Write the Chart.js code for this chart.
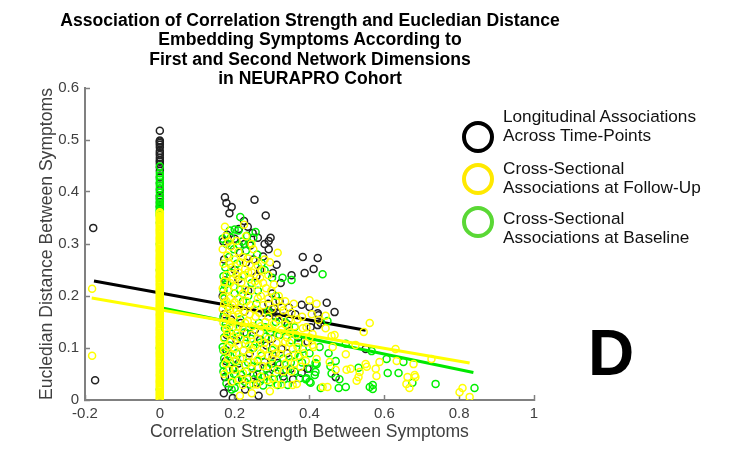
<!DOCTYPE html>
<html lang="en">
<head>
    <meta charset="UTF-8">
    <title>NEURAPRO Cohort</title>
    <script src="https://cdn.jsdelivr.net/npm/chart.js"></script>
    <style>
        body { margin: 0; background: #fff; font-family: 'Liberation Sans', sans-serif; }
        #wrap { position: relative; width: 738px; height: 461px; }
        #title { position: absolute; left: 10px; width: 600px; top: 11px; text-align: center; font-size: 17.6px; line-height: 19.3px; font-weight: bold; color: #000; }
        .ring { position: absolute; left: 462px; width: 24px; height: 24px; border: 4px solid #000; border-radius: 50%; }
        .lab { position: absolute; left: 503px; font-size: 17.2px; line-height: 18.8px; color: #111; white-space: nowrap; }
        #panel { position: absolute; left: 588px; top: 318px; font-size: 64px; line-height: 70px; font-weight: bold; color: #000; }
    </style>
</head>
<body>
<div id="wrap">
    <canvas id="chart" width="738" height="461"></canvas>
    <div id="title">Association of Correlation Strength and Eucledian Distance<br>Embedding Symptoms According to<br>First and Second Network Dimensions<br>in NEURAPRO Cohort</div>
    <div class="ring" style="top:121px"></div>
    <div class="lab" style="top:107px">Longitudinal Associations<br>Across Time-Points</div>
    <div class="ring" style="top:163px;border-color:#ffe900"></div>
    <div class="lab" style="top:159px">Cross-Sectional<br>Associations at Follow-Up</div>
    <div class="ring" style="top:206px;border-color:#5ad835"></div>
    <div class="lab" style="top:209px">Cross-Sectional<br>Associations at Baseline</div>
    <div id="panel">D</div>
</div>
<script>
    const xTicks = [-0.2, 0, 0.2, 0.4, 0.6, 0.8, 1];
    const yTicks = [0, 0.1, 0.2, 0.3, 0.4, 0.5, 0.6];

    // points sitting on the x = 0 column, y only
    const blackColumn = [0.518, 0.499, 0.497, 0.494, 0.491, 0.486, 0.479, 0.475, 0.471, 0.466, 0.461, 0.458, 0.454, 0.447, 0.441, 0.428, 0.417, 0.404, 0.393, 0.388, 0.381, 0.372];
    const greenColumn = [0.449, 0.436, 0.431, 0.424, 0.418, 0.412, 0.407, 0.399, 0.392, 0.385, 0.379, 0.376, 0.372, 0.369, 0.366, 0.364, 0.361, 0.358, 0.355, 0.341, 0.3, 0.25, 0.1, 0.02];
    const yellowColumn = [0.361, 0.359, 0.357, 0.354, 0.352, 0.35, 0.348, 0.346, 0.343, 0.341, 0.338, 0.335, 0.333, 0.33, 0.328, 0.326, 0.324, 0.321, 0.319, 0.316, 0.313, 0.311, 0.309, 0.307, 0.304, 0.302, 0.299, 0.296, 0.294, 0.291, 0.289, 0.287, 0.285, 0.282, 0.279, 0.277, 0.274, 0.272, 0.27, 0.268, 0.265, 0.262, 0.26, 0.257, 0.254, 0.251, 0.249, 0.246, 0.243, 0.24, 0.238, 0.236, 0.234, 0.231, 0.229, 0.226, 0.223, 0.221, 0.218, 0.215, 0.212, 0.21, 0.208, 0.206, 0.203, 0.2, 0.198, 0.195, 0.193, 0.19, 0.187, 0.184, 0.182, 0.18, 0.178, 0.175, 0.173, 0.17, 0.167, 0.165, 0.163, 0.161, 0.158, 0.156, 0.153, 0.15, 0.148, 0.145, 0.142, 0.139, 0.137, 0.135, 0.133, 0.13, 0.128, 0.125, 0.122, 0.12, 0.118, 0.116, 0.113, 0.111, 0.108, 0.105, 0.103, 0.1, 0.097, 0.094, 0.092, 0.09, 0.088, 0.085, 0.083, 0.08, 0.077, 0.075, 0.072, 0.07, 0.068, 0.066, 0.063, 0.06, 0.058, 0.055, 0.052, 0.049, 0.047, 0.044, 0.041, 0.038, 0.036, 0.034, 0.032, 0.029, 0.027, 0.024, 0.021, 0.019, 0.016, 0.014, 0.011, 0.009, 0.006, 0.004, 0.002];

    // [correlation, distance] away from the column
    const blackCloud = [[-0.178,0.331],[-0.173,0.038],[0.174,0.39],[0.178,0.379],[0.192,0.371],[0.186,0.359],[0.253,0.385],[0.283,0.355],[0.296,0.312],[0.291,0.306],[0.291,0.29],[0.235,0.333],[0.225,0.344],[0.211,0.329],[0.248,0.321],[0.382,0.275],[0.422,0.273],[0.387,0.244],[0.411,0.252],[0.446,0.187],[0.467,0.169],[0.4,0.179],[0.422,0.167],[0.352,0.24],[0.323,0.225],[0.312,0.26],[0.302,0.244],[0.379,0.183],[0.55,0.098],[0.47,0.044],[0.395,0.06],[0.379,0.052],[0.171,0.013],[0.195,0.004],[0.264,0.008],[0.259,0.033],[0.395,0.112],[0.302,0.087],[0.315,0.071],[0.28,0.073],[0.174,0.044],[0.179,0.125],[0.424,0.163],[0.422,0.144],[0.43,0.148],[0.403,0.14],[0.17,0.305],[0.19,0.296],[0.214,0.283],[0.242,0.297],[0.262,0.312],[0.276,0.276],[0.168,0.2],[0.175,0.23],[0.2,0.25],[0.23,0.264],[0.258,0.238],[0.3,0.205],[0.32,0.19],[0.345,0.178],[0.362,0.165],[0.172,0.165],[0.19,0.155],[0.226,0.17],[0.28,0.168],[0.31,0.16],[0.342,0.145],[0.37,0.12],[0.178,0.095],[0.205,0.115],[0.24,0.09],[0.262,0.062],[0.285,0.105],[0.325,0.098],[0.35,0.06],[0.196,0.06],[0.22,0.04],[0.184,0.025],[0.29,0.048],[0.33,0.045],
        [0.18,0.318],[0.2,0.31],[0.226,0.3],[0.25,0.27],[0.28,0.3],[0.268,0.25],[0.172,0.27],[0.21,0.232],[0.236,0.21],[0.29,0.185],[0.306,0.176],[0.33,0.16],[0.298,0.168],[0.312,0.168],[0.216,0.148],[0.254,0.135],[0.176,0.075],[0.232,0.128],[0.268,0.116],[0.3,0.118],[0.21,0.07],[0.25,0.048],[0.305,0.062],[0.34,0.09],[0.228,0.02],[0.356,0.04]];

    const greenCloud = [[0.435,0.242],[0.215,0.352],[0.21,0.326],[0.187,0.326],[0.2,0.328],[0.256,0.323],[0.233,0.316],[0.272,0.263],[0.328,0.235],[0.352,0.231],[0.174,0.221],[0.174,0.138],[0.168,0.102],[0.227,0.035],[0.2,0.023],[0.315,0.029],[0.342,0.029],[0.374,0.042],[0.392,0.042],[0.4,0.035],[0.416,0.071],[0.566,0.094],[0.606,0.079],[0.651,0.073],[0.531,0.062],[0.609,0.052],[0.638,0.052],[0.675,0.033],[0.737,0.031],[0.841,0.023],[0.561,0.025],[0.569,0.029],[0.569,0.021],[0.497,0.025],[0.478,0.023],[0.43,0.023],[0.47,0.075],[0.497,0.108],[0.427,0.102],[0.451,0.09],[0.456,0.065],[0.48,0.04],[0.459,0.051],[0.414,0.048],[0.416,0.054],[0.419,0.069],[0.403,0.033],[0.39,0.04],[0.448,0.152],[0.36,0.087],[0.374,0.083],[0.178,0.3],[0.198,0.29],[0.22,0.305],[0.24,0.3],[0.185,0.275],[0.206,0.262],[0.26,0.28],[0.28,0.25],[0.175,0.255],[0.19,0.245],[0.225,0.24],[0.245,0.225],[0.262,0.21],[0.3,0.235],[0.172,0.195],[0.182,0.18],[0.2,0.205],[0.222,0.19],[0.258,0.185],[0.29,0.17],[0.31,0.2],[0.335,0.15],[0.17,0.16],[0.196,0.14],[0.215,0.155],[0.24,0.14],[0.265,0.148],[0.295,0.13],[0.32,0.125],[0.352,0.115],[0.172,0.12],[0.186,0.105],[0.205,0.09],[0.228,0.108],[0.25,0.1],[0.272,0.085],[0.3,0.096],[0.33,0.08],[0.35,0.072],[0.172,0.08],[0.19,0.07],[0.212,0.062],[0.236,0.072],[0.26,0.05],[0.285,0.06],[0.31,0.052],[0.338,0.058],[0.17,0.055],[0.186,0.045],[0.206,0.038],[0.24,0.03],[0.268,0.036],[0.295,0.034],[0.178,0.032],[0.192,0.02],
        [0.168,0.31],[0.19,0.312],[0.212,0.298],[0.23,0.287],[0.25,0.312],[0.17,0.238],[0.18,0.225],[0.198,0.218],[0.214,0.212],[0.236,0.2],[0.17,0.21],[0.176,0.145],[0.19,0.128],[0.21,0.122],[0.226,0.13],[0.244,0.118],[0.268,0.11],[0.284,0.122],[0.17,0.095],[0.182,0.088],[0.198,0.075],[0.222,0.08],[0.245,0.065],[0.262,0.075],[0.28,0.045],[0.3,0.07],[0.32,0.068],[0.17,0.068],[0.18,0.058],[0.198,0.05],[0.218,0.048],[0.232,0.055],[0.252,0.04],[0.276,0.028],[0.305,0.04],[0.332,0.04],[0.36,0.055],[0.38,0.072],[0.4,0.09],[0.382,0.098],[0.4,0.06],[0.37,0.11],[0.345,0.14],[0.36,0.14],[0.31,0.15],[0.282,0.14]];

    const yellowCloud = [[-0.181,0.214],[-0.181,0.085],[0.561,0.148],[0.545,0.131],[0.63,0.098],[0.726,0.079],[0.633,0.075],[0.678,0.069],[0.587,0.073],[0.55,0.069],[0.553,0.064],[0.577,0.06],[0.499,0.058],[0.51,0.06],[0.534,0.054],[0.531,0.044],[0.526,0.037],[0.579,0.046],[0.662,0.044],[0.681,0.048],[0.683,0.044],[0.659,0.031],[0.667,0.023],[0.801,0.015],[0.809,0.023],[0.828,0.006],[0.448,0.025],[0.435,0.025],[0.497,0.088],[0.462,0.102],[0.523,0.106],[0.467,0.125],[0.459,0.123],[0.454,0.073],[0.47,0.058],[0.419,0.079],[0.376,0.064],[0.366,0.031],[0.355,0.029],[0.4,0.192],[0.419,0.185],[0.406,0.165],[0.443,0.162],[0.424,0.154],[0.443,0.138],[0.392,0.14],[0.382,0.138],[0.408,0.127],[0.411,0.102],[0.368,0.102],
        [0.174,0.333],[0.225,0.337],[0.23,0.315],[0.176,0.315],[0.205,0.306],[0.25,0.29],[0.245,0.3],[0.315,0.283],[0.294,0.265],[0.18,0.278],[0.2,0.27],[0.215,0.265],[0.168,0.29],[0.19,0.295],[0.235,0.272],[0.262,0.258],[0.28,0.27],[0.17,0.262],[0.192,0.255],[0.21,0.245],[0.228,0.252],[0.246,0.245],[0.268,0.235],[0.29,0.24],[0.178,0.24],[0.196,0.232],[0.218,0.226],[0.24,0.232],[0.262,0.222],[0.284,0.215],[0.305,0.222],[0.168,0.215],[0.182,0.212],[0.2,0.218],[0.222,0.205],[0.244,0.21],[0.27,0.2],[0.29,0.195],[0.318,0.2],[0.335,0.19],[0.17,0.198],[0.178,0.19],[0.188,0.196],[0.2,0.188],[0.215,0.178],[0.232,0.19],[0.252,0.175],[0.276,0.182],[0.3,0.175],[0.33,0.172],[0.352,0.168],[0.368,0.155],[0.168,0.175],[0.18,0.168],[0.196,0.16],[0.21,0.165],[0.235,0.152],[0.256,0.16],[0.282,0.15],[0.305,0.146],[0.325,0.135],[0.348,0.13],[0.17,0.148],[0.186,0.142],[0.204,0.128],[0.222,0.138],[0.245,0.125],[0.268,0.13],[0.29,0.118],[0.312,0.11],[0.335,0.112],[0.355,0.098],[0.172,0.118],[0.19,0.112],[0.21,0.105],[0.232,0.115],[0.256,0.105],[0.278,0.098],[0.3,0.08],[0.322,0.088],[0.347,0.11],[0.345,0.082],[0.172,0.095],[0.194,0.088],[0.215,0.08],[0.238,0.085],[0.262,0.078],[0.29,0.065],[0.315,0.058],[0.335,0.07],[0.176,0.07],[0.2,0.058],[0.222,0.052],[0.246,0.06],[0.27,0.045],[0.3,0.042],[0.325,0.03],[0.172,0.05],[0.192,0.035],[0.214,0.008],[0.246,0.013],[0.294,0.017],[0.222,0.029],[0.288,0.038],[0.25,0.03],[0.408,0.106],[0.36,0.07],[0.385,0.09],[0.4,0.12],[0.38,0.16],[0.358,0.185],[0.39,0.11],
        [0.184,0.305],[0.21,0.285],[0.222,0.275],[0.24,0.26],[0.256,0.268],[0.272,0.25],[0.186,0.262],[0.204,0.24],[0.22,0.238],[0.236,0.245],[0.254,0.228],[0.276,0.225],[0.298,0.21],[0.172,0.228],[0.188,0.225],[0.21,0.195],[0.228,0.212],[0.242,0.182],[0.262,0.195],[0.31,0.19],[0.325,0.18],[0.345,0.155],[0.172,0.185],[0.186,0.175],[0.194,0.182],[0.206,0.172],[0.224,0.17],[0.24,0.165],[0.266,0.168],[0.29,0.16],[0.318,0.155],[0.336,0.145],[0.36,0.142],[0.176,0.158],[0.192,0.15],[0.21,0.142],[0.228,0.148],[0.248,0.142],[0.27,0.142],[0.294,0.138],[0.315,0.125],[0.34,0.12],[0.365,0.125],[0.18,0.128],[0.198,0.122],[0.216,0.118],[0.238,0.105],[0.262,0.118],[0.28,0.11],[0.304,0.1],[0.328,0.1],[0.18,0.102],[0.2,0.098],[0.224,0.095],[0.246,0.098],[0.27,0.09],[0.29,0.085],[0.31,0.09],[0.182,0.08],[0.204,0.075],[0.228,0.068],[0.252,0.072],[0.276,0.065],[0.33,0.055],[0.186,0.058],[0.212,0.04],[0.236,0.04],[0.26,0.03],[0.31,0.03],[0.352,0.055],[0.37,0.085],[0.39,0.075],[0.178,0.135]];

    const blackLine = [[-0.176, 0.229], [0.55, 0.134]];
    const greenLine = [[0, 0.178], [0.838, 0.053]];
    const yellowLine = [[-0.182, 0.196], [0.828, 0.071]];

    const toPoints = pairs => pairs.map(p => ({ x: p[0], y: p[1] }));
    const onColumn = ys => ys.map(y => ({ x: 0, y: y }));

    function marks(points, color, order) {
        return { data: points, pointBorderColor: color, pointBackgroundColor: 'transparent', pointRadius: 3.5, pointBorderWidth: 1.5, order: order };
    }
    function fit(points, color, order) {
        return { data: toPoints(points), showLine: true, borderColor: color, borderWidth: 3, pointRadius: 0, order: order };
    }

    const axisColor = '#808080';
    const textColor = '#404040';

    new Chart(document.getElementById('chart'), {
        type: 'scatter',
        data: {
            datasets: [
                fit(blackLine, '#000', 7),
                marks(toPoints(blackCloud).concat(onColumn(blackColumn)), '#222', 6),
                fit(greenLine, '#00e800', 5),
                marks(toPoints(greenCloud).concat(onColumn(greenColumn)), '#00f000', 4),
                marks(toPoints(yellowCloud).concat(onColumn(yellowColumn)), '#ffff00', 3),
                fit(yellowLine, '#ffff00', 2)
            ]
        },
        options: {
            responsive: false,
            animation: false,
            layout: { padding: { top: 88, right: 204 } },
            plugins: {
                legend: { display: false },
                tooltip: { enabled: false }
            },
            scales: {
                x: {
                    min: -0.2, max: 1,
                    afterBuildTicks: s => { s.ticks = xTicks.map(v => ({ value: v })); },
                    afterFit: s => { s.height = 61; s.paddingLeft = 0; s.paddingRight = 0; },
                    grid: { drawOnChartArea: false, tickLength: -5, tickColor: axisColor, tickWidth: 1.5 },
                    border: { color: axisColor, width: 2 },
                    ticks: { color: textColor, padding: 10, maxRotation: 0, font: { family: 'Liberation Sans', size: 15 }, callback: v => String(+v.toFixed(1)) },
                    title: { display: true, text: 'Correlation Strength Between Symptoms', color: textColor, font: { family: 'Liberation Sans', size: 17.6 }, padding: { top: 0, bottom: 18 } }
                },
                y: {
                    min: 0, max: 0.6,
                    afterBuildTicks: s => { s.ticks = yTicks.map(v => ({ value: v })); },
                    afterFit: s => { s.width = 85; s.paddingTop = 0; s.paddingBottom = 0; },
                    grid: { drawOnChartArea: false, tickLength: -5, tickColor: axisColor, tickWidth: 1.5 },
                    border: { color: axisColor, width: 2 },
                    ticks: { color: textColor, padding: 11, font: { family: 'Liberation Sans', size: 15 }, callback: v => String(+v.toFixed(1)) },
                    title: { display: true, text: 'Eucledian Distance Between Symptoms', color: textColor, font: { family: 'Liberation Sans', size: 17.6 }, padding: { top: 37, bottom: 0 } }
                }
            }
        }
    });
</script>
</body>
</html>
